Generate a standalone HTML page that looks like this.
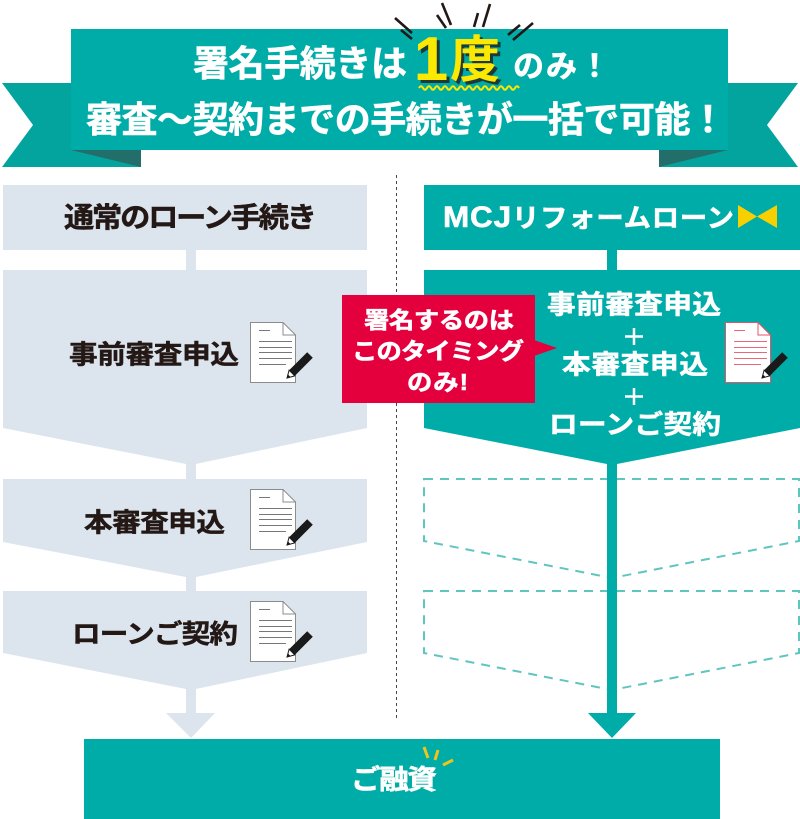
<!DOCTYPE html>
<html><head><meta charset="utf-8"><style>
html,body{margin:0;padding:0;background:#fff;}
svg{display:block;}
text{font-family:"Liberation Sans","Noto Sans CJK JP",sans-serif;font-weight:bold;}
.w{fill:#fff;stroke:#fff;stroke-width:0.6;}
.d{fill:#231815;stroke:#231815;stroke-width:0.5;}
</style></head><body>
<svg width="800" height="819" viewBox="0 0 800 819" xmlns="http://www.w3.org/2000/svg">
<!-- Banner -->
<polygon points="2,83 141,83 141,167 2,167 33,125" fill="#03a49d"/>
<polygon points="798,83 659,83 659,167 798,167 767,125" fill="#03a49d"/>
<polygon points="71,150 141,150 141,167" fill="#226e6a"/>
<polygon points="728,150 659,150 659,167" fill="#226e6a"/>
<rect x="71" y="29" width="657" height="121" fill="#00aca8"/>
<g stroke="#231815" stroke-width="2.6" fill="none">
<line x1="395" y1="18" x2="412" y2="33"/>
<line x1="401" y1="30" x2="412" y2="39"/>
<line x1="437" y1="15" x2="446" y2="28"/>
<line x1="442" y1="3" x2="451" y2="25"/>
<line x1="490" y1="4" x2="483" y2="27"/>
<line x1="478" y1="13" x2="474" y2="27"/>
<line x1="520" y1="25" x2="508" y2="35"/>
<line x1="533" y1="23" x2="513" y2="40"/>
</g>
<text class="w" x="193" y="76" font-size="36" textLength="214" lengthAdjust="spacing">署名手続きは</text>
<text x="434" y="83" font-size="62" fill="#1d3a3b" text-anchor="middle">1</text>
<text x="453" y="80" font-size="50" fill="#1d3a3b">度</text>
<text x="431" y="80" font-size="62" fill="#fce800" text-anchor="middle">1</text>
<text x="450" y="77" font-size="50" fill="#fce800">度</text>
<path d="M419,88 q2,-3.5 4,0 t4,0 t4,0 t4,0 t4,0 t4,0 t4,0 t4,0 t4,0 t4,0 t4,0 t4,0 t4,0 t4,0 t4,0 t4,0 t4,0 t4,0 t4,0 t4,0 t4,0 t4,0 t4,0 t4,0 t4,0" stroke="#fce800" stroke-width="2" fill="none"/>
<text class="w" x="513" y="77" font-size="31" textLength="97" lengthAdjust="spacing">のみ！</text>
<text class="w" x="86" y="132" font-size="36" textLength="640" lengthAdjust="spacing">審査～契約までの手続きが一括で可能！</text>

<!-- Left column -->
<rect x="3" y="185" width="364" height="65" fill="#dce5ed"/>
<rect x="186" y="250" width="10" height="464" fill="#dce5ed"/>
<polygon points="3,270 367,270 367,428 191,465 3,428" fill="#dce5ed"/>
<polygon points="3,479 367,479 367,542 191,578 3,542" fill="#dce5ed"/>
<polygon points="3,591 367,591 367,653 191,690 3,653" fill="#dce5ed"/>
<polygon points="166,713 215,713 191,738" fill="#dce5ed"/>
<text class="d" transform="translate(64,227) scale(1.08,1)" x="0" y="0" font-size="28" textLength="234.3" lengthAdjust="spacing">通常のローン手続き</text>
<text class="d" transform="translate(69,363.5) scale(1.1,1)" x="0" y="0" font-size="26" textLength="154.5" lengthAdjust="spacing">事前審査申込</text>
<text class="d" transform="translate(84,531.5) scale(1.1,1)" x="0" y="0" font-size="26" textLength="128.2" lengthAdjust="spacing">本審査申込</text>
<text class="d" transform="translate(72,643) scale(1.1,1)" x="0" y="0" font-size="26" textLength="150.9" lengthAdjust="spacing">ローンご契約</text>

<!-- Divider -->
<line x1="396.5" y1="175" x2="396.5" y2="718" stroke="#444" stroke-width="1" stroke-dasharray="3,3"/>

<!-- Right column -->
<rect x="424" y="185" width="376" height="65" fill="#00aca8"/>
<polygon points="424,270 800,270 800,428 612,465 424,428" fill="#00aca8"/>
<path d="M424,479 H799 V541 L612,578 L424,541 Z" fill="none" stroke="#5ec5bf" stroke-width="2" stroke-dasharray="9,7"/>
<path d="M424,591 H799 V653 L612,690 L424,653 Z" fill="none" stroke="#5ec5bf" stroke-width="2" stroke-dasharray="9,7"/>
<rect x="607" y="250" width="10" height="464" fill="#00aca8"/>
<polygon points="588,713 636,713 612,738" fill="#00aca8"/>
<text class="w" transform="translate(443,227) scale(1.05,1)" x="0" y="0" font-size="26" textLength="277.1" lengthAdjust="spacing"><tspan font-size="30">MCJ</tspan>リフォームローン</text>
<polygon points="738,205 738,228 757,216.5" fill="#f8d000"/>
<polygon points="777,205 777,228 757,216.5" fill="#f8d000"/>
<text class="w" transform="translate(547,313.5) scale(1.1,1)" x="0" y="0" font-size="26" textLength="158.2" lengthAdjust="spacing">事前審査申込</text>
<g stroke="#fff" stroke-width="2.5">
<line x1="625" y1="336.5" x2="643" y2="336.5"/><line x1="634" y1="328" x2="634" y2="345"/>
<line x1="625" y1="396.5" x2="643" y2="396.5"/><line x1="634" y1="388" x2="634" y2="405"/>
</g>
<text class="w" transform="translate(562,373.5) scale(1.1,1)" x="0" y="0" font-size="26" textLength="132.7" lengthAdjust="spacing">本審査申込</text>
<text class="w" transform="translate(549,433.5) scale(1.1,1)" x="0" y="0" font-size="26" textLength="156.4" lengthAdjust="spacing">ローンご契約</text>

<!-- Red callout -->
<rect x="342" y="295" width="193" height="108" fill="#e4003d"/>
<polygon points="534,340 557,348 534,356" fill="#e4003d"/>
<text class="w" transform="translate(364,328) scale(1.1,1)" x="0" y="0" font-size="23" textLength="136.4" lengthAdjust="spacing">署名するのは</text>
<text class="w" transform="translate(352,359) scale(1.1,1)" x="0" y="0" font-size="23" textLength="156.4" lengthAdjust="spacing">このタイミング</text>
<text class="w" transform="translate(407,390) scale(1.1,1)" x="0" y="0" font-size="23" textLength="55.5" lengthAdjust="spacing">のみ!</text>

<!-- Doc icons (gray) -->
<g transform="translate(250,322)">
<path d="M0.5,0.5 H33 L45.5,13 V60.5 H0.5 Z" fill="#fff" stroke="#8c8c8c"/>
<path d="M33,0.5 V13 H45.5" fill="none" stroke="#8c8c8c"/>
<g stroke="#777" stroke-width="1"><line x1="9" y1="8.5" x2="20" y2="8.5"/><line x1="9" y1="19.5" x2="42" y2="19.5"/><line x1="9" y1="25.5" x2="42" y2="25.5"/><line x1="9" y1="30.5" x2="42" y2="30.5"/><line x1="9" y1="36.5" x2="42" y2="36.5"/><line x1="9" y1="42.5" x2="36" y2="42.5"/></g>
<polygon points="44.8,53.9 39.1,48.2 57.2,30.2 62.8,35.8" fill="#1a1a1a"/>
<polygon points="37,56 39.1,48.2 44.8,53.9" fill="#fff" stroke="#1a1a1a" stroke-width="1"/>
<polygon points="37,56 38,52.5 40.5,55" fill="#1a1a1a"/>
</g>
<g transform="translate(250,489)">
<path d="M0.5,0.5 H33 L45.5,13 V60.5 H0.5 Z" fill="#fff" stroke="#8c8c8c"/>
<path d="M33,0.5 V13 H45.5" fill="none" stroke="#8c8c8c"/>
<g stroke="#777" stroke-width="1"><line x1="9" y1="8.5" x2="20" y2="8.5"/><line x1="9" y1="19.5" x2="42" y2="19.5"/><line x1="9" y1="25.5" x2="42" y2="25.5"/><line x1="9" y1="30.5" x2="42" y2="30.5"/><line x1="9" y1="36.5" x2="42" y2="36.5"/><line x1="9" y1="42.5" x2="36" y2="42.5"/></g>
<polygon points="44.8,53.9 39.1,48.2 57.2,30.2 62.8,35.8" fill="#1a1a1a"/>
<polygon points="37,56 39.1,48.2 44.8,53.9" fill="#fff" stroke="#1a1a1a" stroke-width="1"/>
<polygon points="37,56 38,52.5 40.5,55" fill="#1a1a1a"/>
</g>
<g transform="translate(250,601)">
<path d="M0.5,0.5 H33 L45.5,13 V60.5 H0.5 Z" fill="#fff" stroke="#8c8c8c"/>
<path d="M33,0.5 V13 H45.5" fill="none" stroke="#8c8c8c"/>
<g stroke="#777" stroke-width="1"><line x1="9" y1="8.5" x2="20" y2="8.5"/><line x1="9" y1="19.5" x2="42" y2="19.5"/><line x1="9" y1="25.5" x2="42" y2="25.5"/><line x1="9" y1="30.5" x2="42" y2="30.5"/><line x1="9" y1="36.5" x2="42" y2="36.5"/><line x1="9" y1="42.5" x2="36" y2="42.5"/></g>
<polygon points="44.8,53.9 39.1,48.2 57.2,30.2 62.8,35.8" fill="#1a1a1a"/>
<polygon points="37,56 39.1,48.2 44.8,53.9" fill="#fff" stroke="#1a1a1a" stroke-width="1"/>
<polygon points="37,56 38,52.5 40.5,55" fill="#1a1a1a"/>
</g>
<!-- Doc icon (red) -->
<g transform="translate(725,322)">
<path d="M0.5,0.5 H33 L45.5,13 V60.5 H0.5 Z" fill="#fff" stroke="#e0566c"/>
<path d="M33,0.5 V13 H45.5" fill="none" stroke="#e0566c"/>
<g stroke="#e8677b" stroke-width="1"><line x1="9" y1="8.5" x2="20" y2="8.5"/><line x1="9" y1="19.5" x2="42" y2="19.5"/><line x1="9" y1="25.5" x2="42" y2="25.5"/><line x1="9" y1="30.5" x2="42" y2="30.5"/><line x1="9" y1="36.5" x2="42" y2="36.5"/><line x1="9" y1="42.5" x2="36" y2="42.5"/></g>
<polygon points="44.8,53.9 39.1,48.2 57.2,30.2 62.8,35.8" fill="#1a1a1a"/>
<polygon points="37,56 39.1,48.2 44.8,53.9" fill="#fff" stroke="#1a1a1a" stroke-width="1"/>
<polygon points="37,56 38,52.5 40.5,55" fill="#1a1a1a"/>
</g>

<!-- Bottom -->
<rect x="84" y="739" width="636" height="80" fill="#00aca8"/>
<text class="w" transform="translate(351,789) scale(1.1,1)" x="0" y="0" font-size="27" textLength="78.2" lengthAdjust="spacing">ご融資</text>
<g stroke="#f2c318" stroke-width="3">
<line x1="424" y1="747" x2="428" y2="758"/>
<line x1="438" y1="750" x2="435" y2="760"/>
<line x1="453" y1="760" x2="443" y2="765"/>
</g>
</svg>
</body></html>
